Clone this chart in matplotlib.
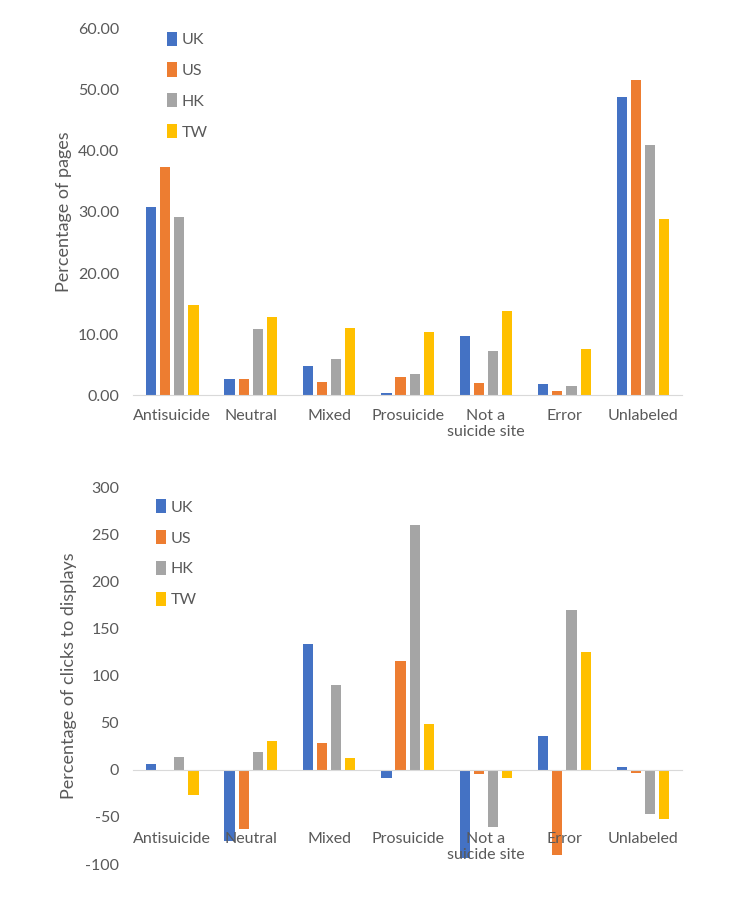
import numpy as np
import matplotlib.pyplot as plt
from matplotlib.ticker import FormatStrFormatter

plt.rcParams['font.family'] = ['Lato', 'DejaVu Sans']
plt.rcParams['axes.unicode_minus'] = False

# Categories and series
categories = ['Antisuicide', 'Neutral', 'Mixed', 'Prosuicide',
              'Not a\nsuicide site', 'Error', 'Unlabeled']
countries = ['UK', 'US', 'HK', 'TW']
colors = ['#4472C4', '#ED7D31', '#A5A5A5', '#FFC000']

# Percentage of pages
pages_uk = [30.8, 2.7, 4.8, 0.4, 9.7, 1.8, 48.9]
pages_us = [37.3, 2.6, 2.1, 2.9, 2.0, 0.6, 51.6]
pages_hk = [29.2, 10.9, 5.9, 3.5, 7.3, 1.5, 41.0]
pages_tw = [14.8, 12.8, 11.0, 10.4, 13.7, 7.5, 28.9]

# Percentage of clicks to displays
clicks_uk = [6.5, -75, 133, -8.5, -93, 36, 3]
clicks_us = [0, -63, 28, 116, -4, -90, -3]
clicks_hk = [14, 18.5, 90, 260, -60.5, 170, -47]
clicks_tw = [-27, 30.5, 13, 49, -9, 125, -52]

pages = [pages_uk, pages_us, pages_hk, pages_tw]
clicks = [clicks_uk, clicks_us, clicks_hk, clicks_tw]

x = np.arange(len(categories))
step = 0.18
width = 0.13
txt = '#595959'
fs = 11.5

fig = plt.figure(figsize=(7.52, 9.02), dpi=100)
ax1 = fig.add_axes([0.177, 0.562, 0.730, 0.406])
ax2 = fig.add_axes([0.177, 0.042, 0.730, 0.418])


def style(ax):
    for s in ['top', 'right', 'left']:
        ax.spines[s].set_visible(False)
    ax.spines['bottom'].set_color('#d9d9d9')
    ax.tick_params(axis='both', length=0, colors=txt, labelsize=fs)
    ax.set_xlim(-0.5, len(categories) - 0.5)


# Top chart
for i, (vals, c) in enumerate(zip(pages, colors)):
    ax1.bar(x + (i - 1.5) * step, vals, width, color=c, label=countries[i])
style(ax1)
ax1.set_ylim(0, 60)
ax1.set_yticks(np.arange(0, 61, 10))
ax1.yaxis.set_major_formatter(FormatStrFormatter('%.2f'))
ax1.set_xticks(x)
ax1.set_xticklabels(categories)
ax1.tick_params(axis='x', pad=10)
ax1.tick_params(axis='y', pad=10)
ax1.set_ylabel('Percentage of pages', color=txt, fontsize=13, labelpad=4)
ax1.legend(loc='upper left', bbox_to_anchor=(0.035, 1.032), frameon=False,
           labelspacing=0.95, handlelength=0.65, handleheight=1.0,
           handletextpad=0.3, fontsize=fs, labelcolor=txt)

# Bottom chart
for i, (vals, c) in enumerate(zip(clicks, colors)):
    ax2.bar(x + (i - 1.5) * step, vals, width, color=c, label=countries[i])
style(ax2)
ax2.spines['bottom'].set_position(('data', 0))
ax2.set_ylim(-100, 300)
ax2.set_yticks(np.arange(-100, 301, 50))
ax2.set_xticks([])
ax2.tick_params(axis='y', pad=10)
for xi, lab in zip(x, categories):
    ax2.text(xi, -66, lab, ha='center', va='top', color=txt, fontsize=fs)
ax2.set_ylabel('Percentage of clicks to displays', color=txt, fontsize=13,
               labelpad=6)
ax2.legend(loc='upper left', bbox_to_anchor=(0.015, 1.006), frameon=False,
           labelspacing=0.95, handlelength=0.65, handleheight=1.0,
           handletextpad=0.3, fontsize=fs, labelcolor=txt)

plt.savefig('out.png', dpi=100)
